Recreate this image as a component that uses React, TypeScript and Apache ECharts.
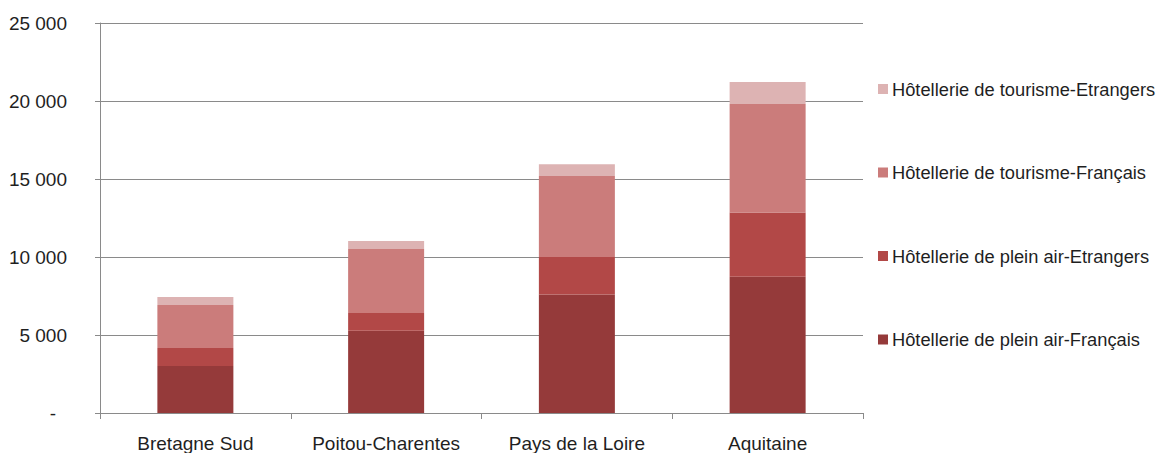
import React, { useEffect, useRef } from "react";
import * as echarts from "echarts";

const categories = ["Bretagne Sud", "Poitou-Charentes", "Pays de la Loire", "Aquitaine"];
const pleinAirFrancais = [3010, 5280, 7590, 8740];
const pleinAirEtrangers = [1150, 1130, 2410, 4120];
const tourismeFrancais = [2760, 4100, 5190, 6940];
const tourismeEtrangers = [510, 510, 750, 1410];

const seriesNames = [
  "Hôtellerie de plein air-Français",
  "Hôtellerie de plein air-Etrangers",
  "Hôtellerie de tourisme-Français",
  "Hôtellerie de tourisme-Etrangers",
];
const seriesColors = ["#953A3A", "#B24847", "#CB7C7B", "#DDB3B3"];
const yTicks = { min: 0, max: 25000, interval: 5000 };

const FONT = "'Liberation Sans', Arial, sans-serif";
const TEXT = "#1f1f1f";
const LINE = "#8a8a8a";

function fmt(v: number): string {
  const s = String(Math.round(v));
  return s.replace(/\B(?=(\d{3})+(?!\d))/g, " ");
}

export default function App() {
  const ref = useRef<HTMLDivElement>(null);
  useEffect(() => {
    if (!ref.current) return;
    const chart = echarts.init(ref.current, undefined, { renderer: "svg" });
    const values = [pleinAirFrancais, pleinAirEtrangers, tourismeFrancais, tourismeEtrangers];
    chart.setOption({
      animation: false,
      textStyle: { fontFamily: FONT },
      grid: { left: 100, top: 23, width: 763, bottom: 40, containLabel: false },
      legend: {
        orient: "vertical",
        left: 878,
        top: 80,
        padding: 0,
        itemWidth: 10,
        itemHeight: 10,
        itemGap: 65.5,
        icon: "rect",
        data: [...seriesNames].reverse(),
        textStyle: { fontSize: 18.3, color: TEXT, fontFamily: FONT, lineHeight: 18, padding: [0, 0, 0, -1] },
      },
      xAxis: {
        type: "category",
        data: categories,
        axisLine: { lineStyle: { color: LINE, width: 1 } },
        axisTick: { show: true, interval: 0, length: 6, lineStyle: { color: LINE } },
        axisLabel: { interval: 0, fontSize: 19, color: TEXT, margin: 21, fontFamily: FONT },
      },
      yAxis: {
        type: "value",
        min: yTicks.min,
        max: yTicks.max,
        interval: yTicks.interval,
        axisLine: { show: true, lineStyle: { color: LINE, width: 1 } },
        axisTick: { show: true, length: 5, lineStyle: { color: LINE } },
        splitLine: { show: true, lineStyle: { color: LINE, width: 1 } },
        axisLabel: {
          fontSize: 19,
          color: TEXT,
          margin: 33,
          fontFamily: FONT,
          formatter: (v: number) => (v === 0 ? "{z|-}" : fmt(v)),
          rich: { z: { fontSize: 19, color: TEXT, padding: [0, 11, 0, 0], fontFamily: FONT } },
        },
      },
      series: seriesNames.map((name, i) => ({
        name,
        type: "bar",
        stack: "total",
        barWidth: 76,
        data: values[i],
        itemStyle: { color: seriesColors[i] },
      })),
    });
    return () => chart.dispose();
  }, []);
  return (
    <div
      ref={ref}
      style={{ position: "absolute", left: 0, top: 0, width: 1159, height: 453, background: "#fff" }}
    />
  );
}
